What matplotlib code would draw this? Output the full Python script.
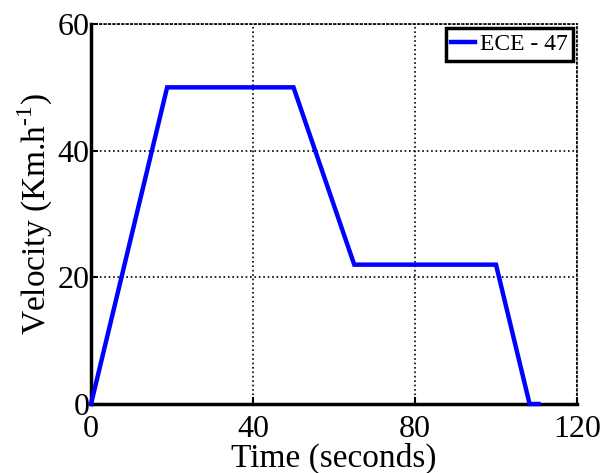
import matplotlib
matplotlib.use('Agg')
import matplotlib.pyplot as plt

# Datos del ciclo ECE-47
tiempo = [0, 18.8, 50, 65, 100, 108.3, 110.5]
velocidad = [0, 50, 50, 22, 22, 0, 0]
xticks = [0, 40, 80, 120]
yticks = [0, 20, 40, 60]

plt.rcParams['font.family'] = 'Liberation Serif'
plt.rcParams['mathtext.fontset'] = 'custom'
plt.rcParams['mathtext.rm'] = 'Liberation Serif'

fig = plt.figure(figsize=(6.05, 4.73), dpi=100)
ax = fig.add_axes([91 / 605, 69 / 473, 486 / 605, 380 / 473])

ax.plot(tiempo, velocidad, color='#0000ff', linewidth=3.2, label='ECE - 47',
        solid_joinstyle='miter', clip_on=False, zorder=3)

ax.set_xlim(0, 120)
ax.set_ylim(0, 60)
ax.set_xticks(xticks)
ax.set_yticks(yticks)
ax.tick_params(axis='both', labelsize=23, direction='in', length=5, width=1.5)
ax.tick_params(axis='x', pad=8)
ax.tick_params(axis='y', pad=1)
ax.grid(True, color='black', linestyle=':', linewidth=1.2)

ax.spines['top'].set_linestyle(':')
ax.spines['right'].set_linestyle(':')
ax.spines['top'].set_linewidth(1.2)
ax.spines['right'].set_linewidth(1.2)
ax.spines['left'].set_linewidth(2.5)
ax.spines['bottom'].set_linewidth(2.5)

ax.set_xlabel('Time (seconds)', fontsize=24)
ax.xaxis.set_label_coords(0.5, -0.102)
ax.set_ylabel('Velocity (Km.h$^{\\text{-1}}$)', fontsize=24, labelpad=2)

leg = ax.legend(loc='upper right', fontsize=17, handlelength=1.0, handletextpad=0.2,
                borderpad=0.25, borderaxespad=0.15, fancybox=False, framealpha=1)
leg.get_frame().set_edgecolor('black')
leg.get_frame().set_linewidth(2.5)

fig.savefig('out.png', dpi=100)
